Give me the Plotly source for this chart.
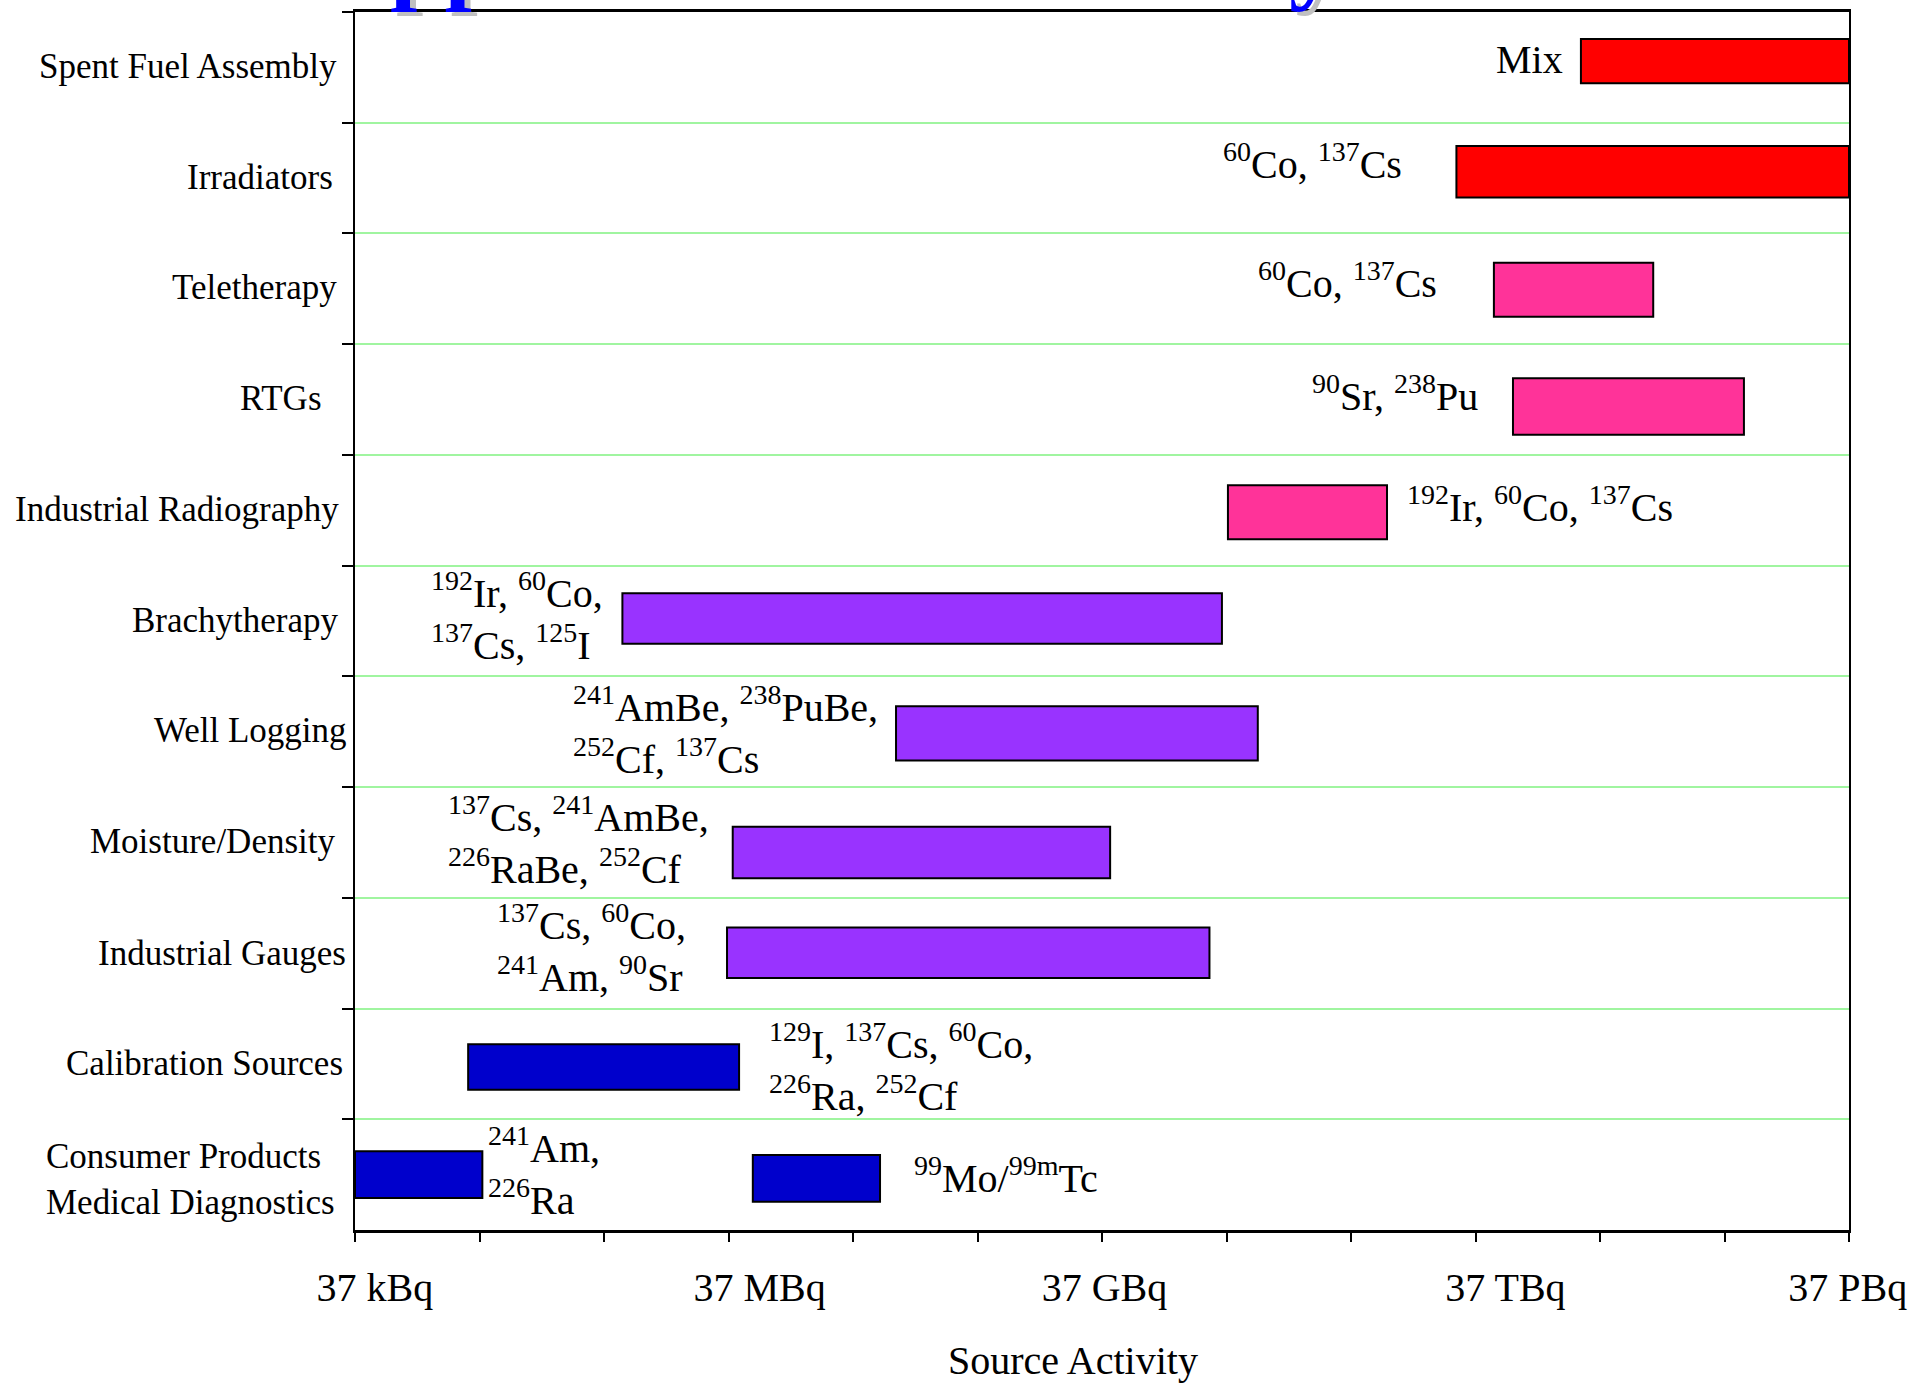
import numpy as np
import plotly.graph_objects as go

# ---------------- data ----------------
categories = ["Spent Fuel Assembly", "Irradiators", "Teletherapy", "RTGs",
              "Industrial Radiography", "Brachytherapy", "Well Logging",
              "Moisture/Density", "Industrial Gauges", "Calibration Sources",
              "Consumer Products<br>Medical Diagnostics"]

# one entry per bar (the last row has two bars)
bar_rows = categories[:10] + [categories[10], categories[10]]
bar_start_bq = [2.6e14, 2.6e13, 5.2e13, 7.4e13, 3.8e11, 5.2e6, 8.2e8, 4.0e7,
                3.6e7, 3.0e5, 3.7e4, 5.8e7]
bar_end_bq = [3.7e16, 3.7e16, 9.9e14, 5.3e15, 7.2e12, 3.4e11, 6.6e11, 4.3e10,
              2.7e11, 4.5e7, 3.9e5, 6.1e8]
bar_groups = ["high", "high", "med", "med", "med", "mid", "mid", "mid", "mid",
              "low", "low", "low"]

bar_labels = ["Mix",
              "<sup>60</sup>Co, <sup>137</sup>Cs",
              "<sup>60</sup>Co, <sup>137</sup>Cs",
              "<sup>90</sup>Sr, <sup>238</sup>Pu",
              "<sup>192</sup>Ir, <sup>60</sup>Co, <sup>137</sup>Cs",
              "<sup>192</sup>Ir, <sup>60</sup>Co,<br><sup>137</sup>Cs, <sup>125</sup>I",
              "<sup>241</sup>AmBe, <sup>238</sup>PuBe,<br><sup>252</sup>Cf, <sup>137</sup>Cs",
              "<sup>137</sup>Cs, <sup>241</sup>AmBe,<br><sup>226</sup>RaBe, <sup>252</sup>Cf",
              "<sup>137</sup>Cs, <sup>60</sup>Co,<br><sup>241</sup>Am, <sup>90</sup>Sr",
              "<sup>129</sup>I, <sup>137</sup>Cs, <sup>60</sup>Co,<br><sup>226</sup>Ra, <sup>252</sup>Cf",
              "<sup>241</sup>Am,<br><sup>226</sup>Ra",
              "<sup>99</sup>Mo/<sup>99m</sup>Tc"]
# which side of its bar the label sits on
label_side = ["left", "left", "left", "left", "right", "left", "left", "left",
              "left", "right", "right", "right"]

tick_decades = list(range(4, 17))          # 37 kBq ... 37 PBq, one tick per decade
tick_labels = ["37 kBq", "37 MBq", "37 GBq", "37 TBq", "37 PBq"]
tick_label_decades = [4, 7, 10, 13, 16]
x_title = "Source Activity"

# fragments of the slide title that is cut off by the top edge
title_fragments = ["pp", "y"]

# ---------------- styles ----------------
group_colors = {"high": "#FF0000", "med": "#FF3399", "mid": "#9933FF", "low": "#0000CC"}
bar_width = [0.400, 0.466, 0.488, 0.511, 0.488, 0.455, 0.488, 0.466, 0.455, 0.411, 0.422, 0.422]
bar_offset = [-0.256, -0.290, -0.236, -0.193, -0.227, -0.250, -0.229, -0.142, -0.231, -0.177, -0.211, -0.178]
label_gap = [16, 52, 55, 33, 18, 17, 16, 22, 39, 28, 4, 32]
label_yshift = [8, 17, 8, 6, 6, 5, 1, 2, 5, -4, 3, -1]
cat_label_xshift = [-16, -20, -16, -31, -14, -14, -6, -18, -7, -10, -18]
cat_label_yshift = [1, 1, 1, 1, 1, 1, 1, 1, 0, 0, -5]
tick_label_shift = [0.16, 0.25, 0.02, 0.24, -0.01]   # decades, label placement only
title_frag_xshift = [33, 932]

FONT = "Times New Roman, Liberation Serif, serif"

fig = go.Figure()
fig.add_trace(go.Bar(
    y=bar_rows,
    x=[e - s for s, e in zip(bar_start_bq, bar_end_bq)],
    base=bar_start_bq,
    orientation="h",
    width=bar_width,
    offset=bar_offset,
    marker=dict(color=[group_colors[g] for g in bar_groups],
                line=dict(color="black", width=2)),
    showlegend=False,
    hoverinfo="skip",
))

for i, txt in enumerate(bar_labels):
    if label_side[i] == "left":
        xv, anchor, shift = bar_start_bq[i], "right", -label_gap[i]
    else:
        xv, anchor, shift = bar_end_bq[i], "left", label_gap[i]
    fig.add_annotation(x=np.log10(xv), y=bar_rows[i], xref="x", yref="y",
                       text=txt, showarrow=False, xanchor=anchor, xshift=shift,
                       yshift=label_yshift[i], align="left",
                       font=dict(family=FONT, size=40, color="black"))

# category labels (left of the axis)
for i, cat in enumerate(categories):
    fig.add_annotation(x=0, y=cat, xref="paper", yref="y", text=cat,
                       showarrow=False, xanchor="right", xshift=cat_label_xshift[i],
                       yshift=cat_label_yshift[i], align="left",
                       font=dict(family=FONT, size=35, color="black"))

fig.add_annotation(x=0.4806, y=0, xref="paper", yref="paper", text=x_title,
                   showarrow=False, xanchor="center", yanchor="middle", yshift=-130,
                   font=dict(family=FONT, size=40, color="black"))

# cut-off slide title remnants (grey shadow, then blue)
for frag, xs in zip(title_fragments, title_frag_xshift):
    for dx, dy, col in [(6, -4, "#C0C0C0"), (0, 0, "#0000FF")]:
        fig.add_annotation(x=0, y=1, xref="paper", yref="paper", text="<b>" + frag + "</b>",
                           showarrow=False, xanchor="left", yanchor="bottom",
                           xshift=xs + dx, yshift=-2 + dy,
                           font=dict(family=FONT, size=98, color=col))

xr = [np.log10(3.7e4), np.log10(3.7e16)]
fig.update_layout(
    width=1931, height=1384,
    margin=dict(l=355, r=82, t=9, b=154),
    plot_bgcolor="white", paper_bgcolor="white",
    font=dict(family=FONT, color="black"),
    barmode="overlay",
    xaxis=dict(type="log", range=xr,
               tickmode="array",
               tickvals=[3.7 * 10 ** (k + s) for k, s in zip(tick_label_decades, tick_label_shift)],
               ticktext=tick_labels,
               ticks="outside", ticklen=0, tickcolor="rgba(0,0,0,0)",
               ticklabelstandoff=20,
               tickfont=dict(family=FONT, size=40, color="black"),
               minor=dict(tickmode="array",
                          tickvals=[3.7 * 10 ** k for k in tick_decades],
                          ticks="outside", ticklen=9, tickwidth=1.5,
                          tickcolor="black", showgrid=False),
               showline=True, linecolor="black", linewidth=3, mirror=True,
               showgrid=False, zeroline=False),
    yaxis=dict(type="category", categoryorder="array", categoryarray=categories,
               range=[10.5, -0.5], tickson="boundaries", showticklabels=False,
               ticks="outside", ticklen=11, tickwidth=1.5, tickcolor="black",
               showline=True, linecolor="black", linewidth=2, mirror=True,
               showgrid=True, gridcolor="#A0F5A0", gridwidth=1.5),
)

fig.write_html("out.html", config={"displayModeBar": False},
               post_script="document.body.style.margin='0px';")
